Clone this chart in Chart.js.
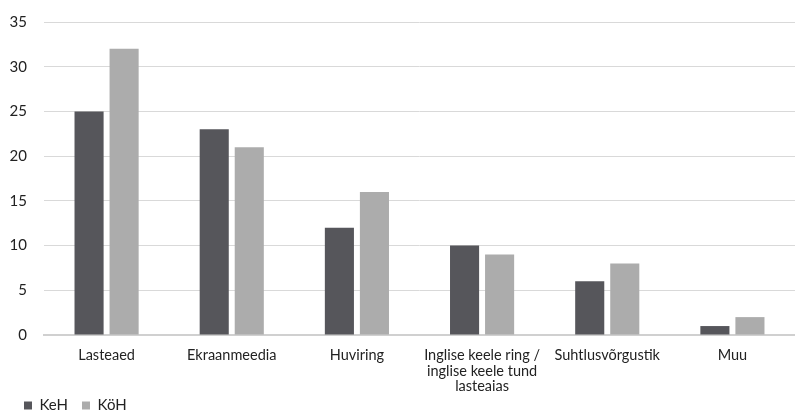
<!DOCTYPE html>
<html>
<head>
<meta charset="utf-8">
<script src="https://cdn.jsdelivr.net/npm/chart.js@4"></script>
<style>
  html, body { margin: 0; padding: 0; background: #fff; }
  #wrap { width: 795px; height: 412px; }
</style>
</head>
<body>
<div id="wrap"><canvas id="chart"></canvas></div>
<script>
const categories = [
  "Lasteaed",
  "Ekraanmeedia",
  "Huviring",
  ["Inglise keele ring /", "inglise keele tund", "lasteaias"],
  "Suhtlusvõrgustik",
  "Muu"
];
const kehValues = [25, 23, 12, 10, 6, 1];
const kohValues = [32, 21, 16, 9, 8, 2];
const yTicks = [0, 5, 10, 15, 20, 25, 30, 35];

// the legend sits tight under the 3-line label, so nudge it up a bit
const legendNudge = {
  id: "legendNudge",
  afterLayout(chart) {
    chart.legend.top -= 9;
    chart.legend.bottom -= 9;
  }
};

const ctx = document.getElementById("chart").getContext("2d");
new Chart(ctx, {
  type: "bar",
  data: {
    labels: categories,
    datasets: [
      { label: "KeH", data: kehValues, backgroundColor: "#56565b" },
      { label: "KöH", data: kohValues, backgroundColor: "#acacac" }
    ]
  },
  plugins: [legendNudge],
  options: {
    responsive: true,
    maintainAspectRatio: false,
    animation: false,
    categoryPercentage: 0.56,
    barPercentage: 0.83,
    layout: { padding: { top: 22, left: 10, right: 0, bottom: -20 } },
    plugins: {
      legend: {
        position: "bottom",
        align: "start",
        labels: {
          boxWidth: 8,
          boxHeight: 8,
          padding: 14,
          color: "#222",
          font: { family: "Lato", size: 15 }
        }
      },
      tooltip: { enabled: false }
    },
    scales: {
      x: {
        grid: { display: false },
        border: { display: true, color: "#d0d0d0", width: 2 },
        afterFit: axis => { axis.height = 58; },
        ticks: {
          color: "#222",
          maxRotation: 0,
          autoSkip: false,
          padding: 5,
          font: { family: "Lato", size: 14.5, lineHeight: 1.07 }
        }
      },
      y: {
        min: 0,
        max: 35,
        afterBuildTicks: axis => { axis.ticks = yTicks.map(v => ({ value: v })); },
        afterFit: axis => { axis.width = 34; },
        grid: { color: "#d9d9d9", lineWidth: 1, drawTicks: true, tickLength: 14, tickColor: "rgba(0,0,0,0)" },
        border: { display: false },
        ticks: {
          color: "#222",
          padding: 3,
          font: { family: "Lato", size: 15 }
        }
      }
    }
  }
});
</script>
</body>
</html>
